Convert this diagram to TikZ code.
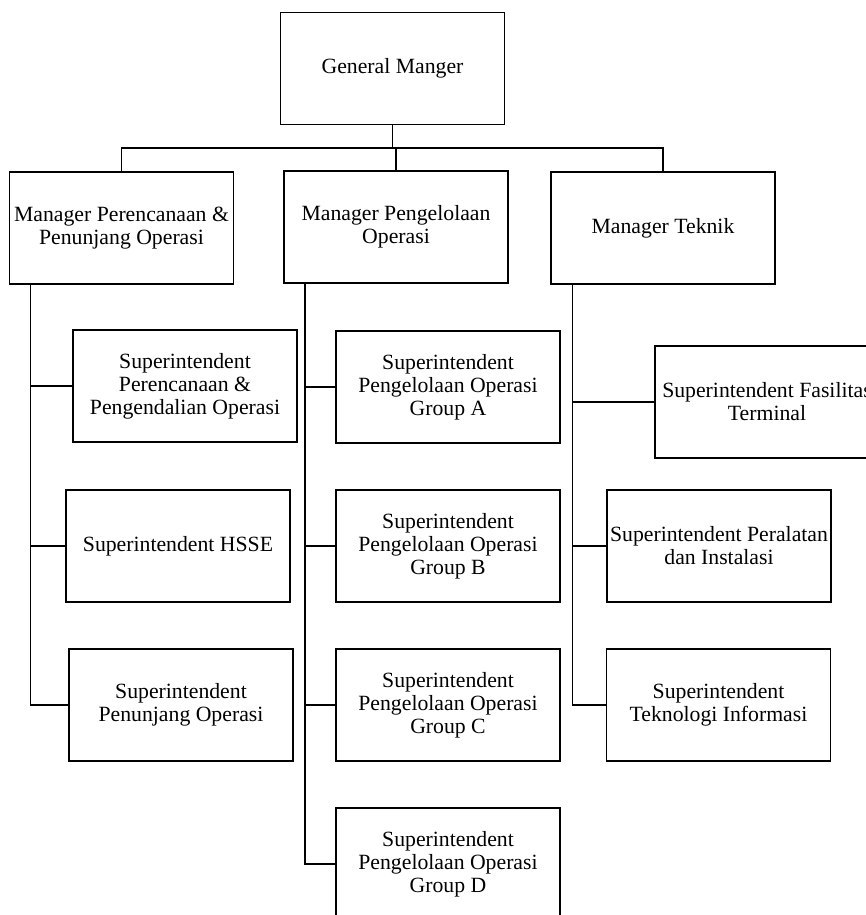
\documentclass[tikz,border=0pt]{standalone}
\usepackage{fontspec}
\setmainfont{Liberation Serif}
\usetikzlibrary{calc}

\tikzset{
  unit/.style={draw, line width=1.4pt, minimum width=168pt, minimum height=84pt,
    inner sep=0pt, align=center, font=\fontsize{16.3}{17.3}\selectfont},
  link/.style={line width=0.9pt},
}

\begin{document}
\begin{tikzpicture}[x=0.75pt,y=-0.75pt]
  \useasboundingbox (0,0) rectangle (866,915);

  % General manager
  \node[unit] (gm) at (392.5,68.5) {General Manger};

  % Managers
  \node[unit] (mpp) at (121.5,228) {Manager Perencanaan \&\\Penunjang Operasi};
  \node[unit] (mpo) at (396,227) {Manager Pengelolaan\\Operasi};
  \node[unit] (mt) at (663,228) {Manager Teknik};

  % Superintendents under Perencanaan & Penunjang
  \node[unit] (spe) at (185,386) {Superintendent\\Perencanaan \&\\Pengendalian Operasi};
  \node[unit] (shs) at (178,546) {Superintendent HSSE};
  \node[unit] (spo) at (181,705) {Superintendent\\Penunjang Operasi};

  % Superintendents under Pengelolaan Operasi
  \node[unit] (sga) at (448,387) {Superintendent\\Pengelolaan Operasi\\Group A};
  \node[unit] (sgb) at (448,546) {Superintendent\\Pengelolaan Operasi\\Group B};
  \node[unit] (sgc) at (448,705) {Superintendent\\Pengelolaan Operasi\\Group C};
  \node[unit] (sgd) at (448,864) {Superintendent\\Pengelolaan Operasi\\Group D};

  % Superintendents under Teknik
  \node[unit] (sft) at (767,402) {Superintendent Fasilitas\\Terminal};
  \node[unit] (spi) at (719,546) {Superintendent Peralatan\\dan Instalasi};
  \node[unit] (sti) at (718.5,705) {Superintendent\\Teknologi Informasi};

  % Bus from general manager
  \coordinate (bus) at (392.5,148);
  \draw[link] (gm.south) -- (gm.south |- bus);
  \draw[link] (mpp.north) |- (bus) -| (mt.north);
  \draw[link] (mpo.north) -- (mpo.north |- bus);

  % Trunks
  \draw[link] ($(mpp.south west)+(22,0)$) coordinate (t1) |- (spo.west);
  \draw[link] ($(mpo.south west)+(22,0)$) coordinate (t2) |- (sgd.west);
  \draw[link] ($(mt.south west)+(22.5,0)$) coordinate (t3) |- (sti.west);

  % Branches
  \draw[link] (t1 |- spe.west) -- (spe.west);
  \draw[link] (t1 |- shs.west) -- (shs.west);
  \draw[link] (t2 |- sga.west) -- (sga.west);
  \draw[link] (t2 |- sgb.west) -- (sgb.west);
  \draw[link] (t2 |- sgc.west) -- (sgc.west);
  \draw[link] (t3 |- sft.west) -- (sft.west);
  \draw[link] (t3 |- spi.west) -- (spi.west);
\end{tikzpicture}
\end{document}
